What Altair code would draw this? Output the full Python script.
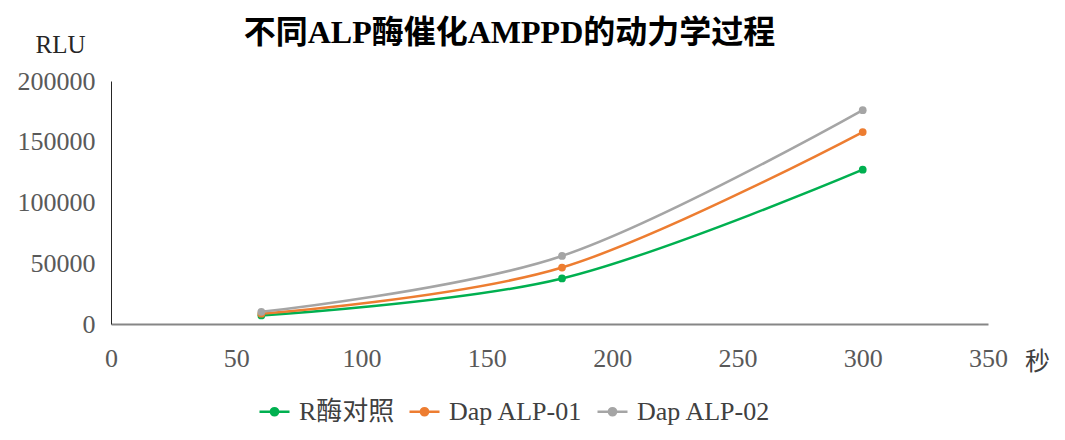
import altair as alt
import pandas as pd

seconds = [60, 180, 300]
series_names = ["R酶对照", "Dap ALP-01", "Dap ALP-02"]
r_enzyme = [7000, 37500, 127000]
dap01 = [8500, 46500, 158000]
dap02 = [10000, 56000, 176000]
colors = ["#00B050", "#ED7D31", "#A5A5A5"]
x_ticks = [0, 50, 100, 150, 200, 250, 300, 350]
y_ticks = [0, 50000, 100000, 150000, 200000]

rows = []
for name, vals in zip(series_names, [r_enzyme, dap01, dap02]):
    for s, v in zip(seconds, vals):
        rows.append({"sec": s, "RLU": v, "series": name})
df = pd.DataFrame(rows)

FONT = "Liberation Serif, Noto Sans CJK SC"
sym = "M-1,0L1,0M-0.24,0A0.24,0.24,0,1,0,0.24,0A0.24,0.24,0,1,0,-0.24,0Z"

color = alt.Color(
    "series:N",
    scale=alt.Scale(domain=series_names, range=colors),
    sort=series_names,
    legend=alt.Legend(
        title=None, orient="none", direction="horizontal",
        legendX=147, legendY=314, padding=0,
        symbolType=sym, symbolSize=900, symbolStrokeWidth=2.5,
        labelFont=FONT, labelFontSize=26, labelColor="#404040",
        labelOffset=8, columnPadding=9,
    ),
)

x = alt.X(
    "sec:Q",
    scale=alt.Scale(domain=[0, 350], nice=False),
    axis=alt.Axis(
        values=x_ticks, title="秒", titleX=926, titleY=37, titleAngle=0,
        titleAlign="center", titleBaseline="middle", titleFont=FONT,
        titleFontSize=25, titleFontWeight="normal", titleColor="#404040",
        ticks=False, grid=False, domainColor="#868686", domainWidth=2,
        labelFlush=False, labelOverlap=False,
        labelPadding=21, labelFontSize=26, labelFont=FONT, labelColor="#595959",
    ),
)
y = alt.Y(
    "RLU:Q",
    scale=alt.Scale(domain=[0, 200000], nice=False),
    axis=alt.Axis(
        values=y_ticks, format="d", title="RLU", titleX=-51, titleY=-37,
        titleAngle=0, titleAlign="center", titleBaseline="middle",
        titleFont=FONT, titleFontSize=25, titleFontWeight="normal",
        titleColor="#262626",
        ticks=False, grid=False, domainColor="#262626", domainWidth=1,
        labelFlush=False, labelOverlap=False,
        labelPadding=16, labelFontSize=26, labelFont=FONT, labelColor="#595959",
    ),
)

base = alt.Chart(df).encode(x=x, y=y, color=color)
lines = base.mark_line(interpolate="cardinal", strokeWidth=2.5)
points = base.mark_point(filled=True, size=60, opacity=1)

chart = alt.layer(lines, points).properties(
    width=877,
    height=243,
    autosize=alt.AutoSizeParams(type="none"),
    padding={"left": 103, "top": 73, "right": 69, "bottom": 108},
    title=alt.Title(
        "不同ALP酶催化AMPPD的动力学过程", font=FONT, fontSize=32,
        fontWeight="bold", anchor="middle", dx=-40, offset=0, dy=50,
        baseline="bottom", color="#000000",
    ),
).configure_view(stroke=None)

chart.save("out.html", embed_options={"renderer": "svg", "actions": False})
